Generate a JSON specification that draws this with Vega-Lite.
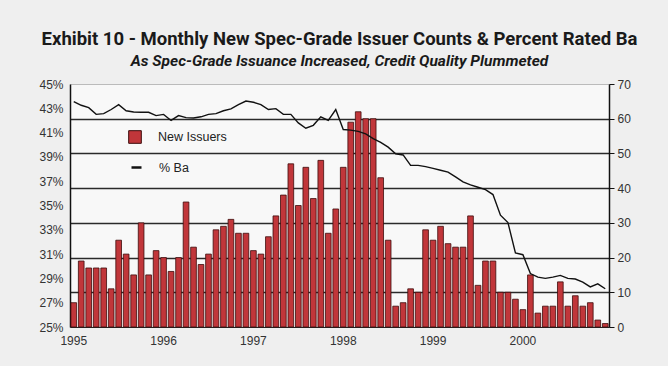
{
  "$schema": "https://vega.github.io/schema/vega-lite/v6.json",
  "width": 539,
  "height": 243,
  "autosize": {"type": "none"},
  "padding": {"left": 70, "top": 84, "right": 59, "bottom": 39},
  "background": "#efefef",
  "title": {
    "text": "Exhibit 10 - Monthly New Spec-Grade Issuer Counts & Percent Rated Ba",
    "subtitle": "As Spec-Grade Issuance Increased, Credit Quality Plummeted",
    "anchor": "middle",
    "frame": "group",
    "font": "Roboto",
    "fontSize": 18.5,
    "fontWeight": "bold",
    "color": "#1a1a1a",
    "subtitleFont": "Roboto",
    "subtitleFontSize": 15.5,
    "subtitleFontStyle": "italic",
    "subtitleFontWeight": "bold",
    "subtitleColor": "#1a1a1a",
    "subtitlePadding": 5,
    "offset": 9
  },
  "config": {
    "view": {"fill": "#f8f8f8", "stroke": "#bbbbbb"},
    "font": "Liberation Sans",
    "axis": {"labelFont": "Liberation Sans", "labelColor": "#333333", "labelFontSize": 12, "titleFontSize": 12},
    "legend": {"labelFont": "Liberation Sans", "labelFontSize": 12.5, "labelColor": "#222222"}
  },
  "data": {
    "values": [
      {"m": "1995-01", "n": 7, "ba": 43.55},
      {"m": "1995-02", "n": 19, "ba": 43.25},
      {"m": "1995-03", "n": 17, "ba": 43.05},
      {"m": "1995-04", "n": 17, "ba": 42.5},
      {"m": "1995-05", "n": 17, "ba": 42.56},
      {"m": "1995-06", "n": 11, "ba": 42.9},
      {"m": "1995-07", "n": 25, "ba": 43.3},
      {"m": "1995-08", "n": 21, "ba": 42.8},
      {"m": "1995-09", "n": 15, "ba": 42.7},
      {"m": "1995-10", "n": 30, "ba": 42.67},
      {"m": "1995-11", "n": 15, "ba": 42.67},
      {"m": "1995-12", "n": 22, "ba": 42.4},
      {"m": "1996-01", "n": 20, "ba": 42.5},
      {"m": "1996-02", "n": 16, "ba": 42.0},
      {"m": "1996-03", "n": 20, "ba": 42.4},
      {"m": "1996-04", "n": 36, "ba": 42.23},
      {"m": "1996-05", "n": 23, "ba": 42.2},
      {"m": "1996-06", "n": 18, "ba": 42.3},
      {"m": "1996-07", "n": 21, "ba": 42.5},
      {"m": "1996-08", "n": 28, "ba": 42.56},
      {"m": "1996-09", "n": 29, "ba": 42.8},
      {"m": "1996-10", "n": 31, "ba": 42.95},
      {"m": "1996-11", "n": 27, "ba": 43.3},
      {"m": "1996-12", "n": 27, "ba": 43.6},
      {"m": "1997-01", "n": 22, "ba": 43.5},
      {"m": "1997-02", "n": 21, "ba": 43.3},
      {"m": "1997-03", "n": 26, "ba": 42.9},
      {"m": "1997-04", "n": 32, "ba": 42.97},
      {"m": "1997-05", "n": 38, "ba": 42.5},
      {"m": "1997-06", "n": 47, "ba": 42.5},
      {"m": "1997-07", "n": 35, "ba": 41.8},
      {"m": "1997-08", "n": 46, "ba": 41.36},
      {"m": "1997-09", "n": 37, "ba": 41.6},
      {"m": "1997-10", "n": 48, "ba": 42.3},
      {"m": "1997-11", "n": 27, "ba": 42.0},
      {"m": "1997-12", "n": 34, "ba": 42.9},
      {"m": "1998-01", "n": 46, "ba": 41.25},
      {"m": "1998-02", "n": 59, "ba": 41.2},
      {"m": "1998-03", "n": 62, "ba": 41.1},
      {"m": "1998-04", "n": 60, "ba": 40.9},
      {"m": "1998-05", "n": 60, "ba": 40.5},
      {"m": "1998-06", "n": 43, "ba": 40.2},
      {"m": "1998-07", "n": 25, "ba": 39.8},
      {"m": "1998-08", "n": 6, "ba": 39.25},
      {"m": "1998-09", "n": 7, "ba": 39.16},
      {"m": "1998-10", "n": 11, "ba": 38.3},
      {"m": "1998-11", "n": 10, "ba": 38.3},
      {"m": "1998-12", "n": 28, "ba": 38.2},
      {"m": "1999-01", "n": 25, "ba": 38.05},
      {"m": "1999-02", "n": 29, "ba": 37.9},
      {"m": "1999-03", "n": 24, "ba": 37.75},
      {"m": "1999-04", "n": 23, "ba": 37.35},
      {"m": "1999-05", "n": 23, "ba": 36.95},
      {"m": "1999-06", "n": 32, "ba": 36.7},
      {"m": "1999-07", "n": 12, "ba": 36.5},
      {"m": "1999-08", "n": 19, "ba": 36.3},
      {"m": "1999-09", "n": 19, "ba": 35.9},
      {"m": "1999-10", "n": 10, "ba": 34.2},
      {"m": "1999-11", "n": 10, "ba": 33.6},
      {"m": "1999-12", "n": 8, "ba": 31.1},
      {"m": "2000-01", "n": 5, "ba": 30.95},
      {"m": "2000-02", "n": 15, "ba": 29.4},
      {"m": "2000-03", "n": 4, "ba": 29.1},
      {"m": "2000-04", "n": 6, "ba": 29.0},
      {"m": "2000-05", "n": 6, "ba": 29.1},
      {"m": "2000-06", "n": 13, "ba": 29.25},
      {"m": "2000-07", "n": 6, "ba": 29.0},
      {"m": "2000-08", "n": 9, "ba": 28.95},
      {"m": "2000-09", "n": 6, "ba": 28.7},
      {"m": "2000-10", "n": 7, "ba": 28.3},
      {"m": "2000-11", "n": 2, "ba": 28.55},
      {"m": "2000-12", "n": 1, "ba": 28.15}
    ]
  },
  "encoding": {
    "x": {
      "field": "m",
      "type": "ordinal",
      "scale": {"paddingInner": 0.24, "paddingOuter": 0.12},
      "axis": {
        "title": null,
        "labelExpr": "slice(datum.value,5)=='01' ? slice(datum.value,0,4) : ''",
        "labelOverlap": false,
        "labelAngle": 0,
        "ticks": false,
        "domain": true,
        "domainColor": "#222222",
        "domainWidth": 1.2,
        "grid": false,
        "labelPadding": 8
      }
    }
  },
  "layer": [
    {
      "mark": {"type": "bar", "stroke": "#3d0c0c", "strokeWidth": 0.8},
      "encoding": {
        "y": {
          "field": "n",
          "type": "quantitative",
          "scale": {"domain": [0, 70], "nice": false},
          "axis": {
            "orient": "right",
            "title": null,
            "values": [0, 10, 20, 30, 40, 50, 60, 70],
            "ticks": true,
            "tickSize": 5,
            "tickColor": "#111111",
            "domainColor": "#111111",
            "domainWidth": 1.5,
            "grid": true,
            "gridColor": {"condition": {"test": "datum.value === 0 || datum.value === 70", "value": "transparent"}, "value": "#2a2a2a"},
            "gridWidth": 1.3,
            "labelPadding": 3
          }
        },
        "fill": {
          "datum": "New Issuers",
          "type": "nominal",
          "scale": {"domain": ["New Issuers"], "range": ["#c1363a"]},
          "legend": {
            "title": null,
            "orient": "none",
            "legendX": 58,
            "legendY": 46,
            "symbolType": "square",
            "symbolSize": 160,
            "symbolStrokeColor": "#3d0c0c",
            "symbolStrokeWidth": 1,
            "labelOffset": 16
          }
        }
      }
    },
    {
      "mark": {"type": "line", "strokeWidth": 1.4},
      "encoding": {
        "y": {
          "field": "ba",
          "type": "quantitative",
          "scale": {"domain": [25, 45], "nice": false},
          "axis": {
            "orient": "left",
            "title": null,
            "values": [25, 27, 29, 31, 33, 35, 37, 39, 41, 43, 45],
            "labelExpr": "datum.value + '%'",
            "ticks": false,
            "domainColor": "#111111",
            "domainWidth": 1.5,
            "grid": false,
            "labelPadding": 7
          }
        },
        "stroke": {
          "datum": "% Ba",
          "type": "nominal",
          "scale": {"domain": ["% Ba"], "range": ["#111111"]},
          "legend": {
            "title": null,
            "orient": "none",
            "legendX": 60,
            "legendY": 77,
            "symbolType": "stroke",
            "symbolSize": 100,
            "symbolStrokeWidth": 2.5,
            "labelOffset": 16
          }
        }
      }
    }
  ],
  "resolve": {"scale": {"y": "independent"}}
}
